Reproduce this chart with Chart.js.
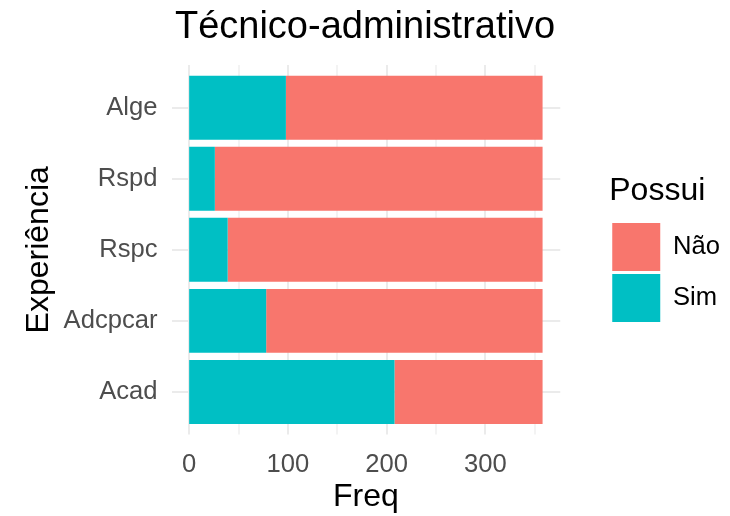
<!DOCTYPE html>
<html>
<head>
<meta charset="utf-8">
<script src="https://cdn.jsdelivr.net/npm/chart.js@4.4.1/dist/chart.umd.min.js"></script>
<style>
  html, body { margin: 0; padding: 0; background: #ffffff; }
</style>
</head>
<body>
<canvas id="chart" width="730" height="516"></canvas>
<script>
const categories = ['Alge', 'Rspd', 'Rspc', 'Adcpcar', 'Acad'];
const simValues = [98, 26, 39, 78, 208];
const naoValues = [260, 332, 319, 280, 150];
const xTickValues = [0, 50, 100, 150, 200, 250, 300, 350];
const xMajorTicks = [0, 100, 200, 300];

const FONT = "'Liberation Sans', Arial, sans-serif";
const GRID = '#ebebeb';

// vertical grid lines, stretched a little past the bars like ggplot's panel
const panelGrid = {
    id: 'panelGrid',
    beforeDatasetsDraw(chart) {
        const { ctx, chartArea, scales } = chart;
        const band = (chartArea.bottom - chartArea.top) / categories.length;
        const top = chartArea.top - band * 0.1;
        const bottom = chartArea.bottom + band * 0.1;
        ctx.save();
        ctx.strokeStyle = GRID;
        for (const v of xTickValues) {
            const x = Math.round(scales.x.getPixelForValue(v));
            ctx.lineWidth = xMajorTicks.includes(v) ? 2 : 1.2;
            ctx.beginPath();
            ctx.moveTo(x, top);
            ctx.lineTo(x, bottom);
            ctx.stroke();
        }
        ctx.restore();
    }
};

new Chart(document.getElementById('chart').getContext('2d'), {
    type: 'bar',
    data: {
        labels: categories,
        datasets: [
            { label: 'Sim', data: simValues, backgroundColor: '#00bfc4', borderWidth: 0 },
            { label: 'Não', data: naoValues, backgroundColor: '#f8766d', borderWidth: 0 }
        ]
    },
    options: {
        indexAxis: 'y',
        responsive: false,
        animation: false,
        devicePixelRatio: 1,
        datasets: {
            bar: { categoryPercentage: 1, barPercentage: 0.9 }
        },
        layout: { padding: 0 },
        scales: {
            x: {
                stacked: true,
                min: -17.9,
                max: 375.9,
                afterBuildTicks: scale => {
                    scale.ticks = xTickValues.map(v => ({ value: v }));
                },
                afterFit: scale => { scale.height = 88.5; },
                grid: { display: false },
                border: { display: false },
                ticks: {
                    autoSkip: false,
                    maxRotation: 0,
                    padding: 14,
                    color: '#4d4d4d',
                    font: { family: FONT, size: 25.6 },
                    callback: v => (xMajorTicks.includes(v) ? String(v) : '')
                },
                title: {
                    display: true,
                    text: 'Freq',
                    color: '#000000',
                    font: { family: FONT, size: 32 },
                    padding: { top: 0, bottom: 0 }
                }
            },
            y: {
                stacked: true,
                offset: true,
                afterFit: scale => { scale.width = 171.5; },
                grid: { color: GRID, lineWidth: 2, offset: false, drawTicks: false },
                border: { display: false },
                ticks: {
                    padding: 14,
                    color: '#4d4d4d',
                    font: { family: FONT, size: 25.6 }
                },
                title: {
                    display: true,
                    text: 'Experiência',
                    color: '#000000',
                    font: { family: FONT, size: 32 },
                    padding: { top: 20, bottom: 0 }
                }
            },
            spacer: {
                type: 'category',
                position: 'right',
                axis: 'y',
                display: true,
                afterFit: scale => { scale.width = 49; },
                grid: { display: false },
                border: { display: false },
                ticks: { display: false }
            }
        },
        plugins: {
            title: {
                display: true,
                text: 'Técnico-administrativo',
                color: '#000000',
                font: { family: FONT, size: 38, weight: 'normal' },
                padding: { top: 5, bottom: 21.5 }
            },
            legend: {
                position: 'right',
                align: 'center',
                fullSize: false,
                reverse: true,
                title: {
                    display: true,
                    text: 'Possui',
                    position: 'start',
                    color: '#000000',
                    font: { family: FONT, size: 32 },
                    padding: { top: 1, bottom: 6 }
                },
                labels: {
                    boxWidth: 48,
                    boxHeight: 48,
                    padding: 3,
                    color: '#000000',
                    font: { family: FONT, size: 25.6 }
                }
            },
            tooltip: { enabled: false }
        }
    },
    plugins: [panelGrid]
});
</script>
</body>
</html>
